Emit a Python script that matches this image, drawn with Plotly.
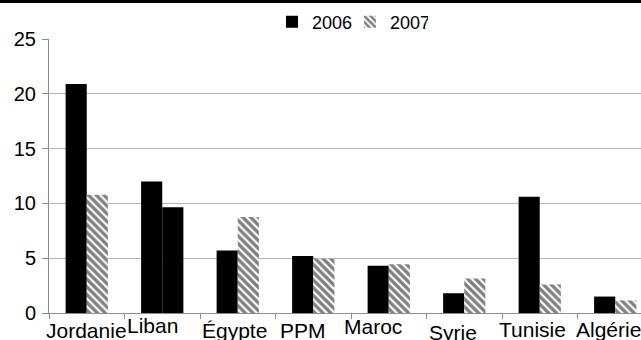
import plotly.graph_objects as go

# Categories and values
countries = ["Jordanie", "Liban", "Égypte", "PPM", "Maroc", "Syrie", "Tunisie", "Algérie"]
values_2006 = [20.9, 12.0, 5.7, 5.2, 4.3, 1.8, 10.6, 1.5]
values_2007 = [10.8, 9.65, 8.75, 4.95, 4.45, 3.15, 2.6, 1.15]
# the Liban 2007 bar is drawn plain black, the others hatched
hatch_2007 = ["\\", "", "\\", "\\", "\\", "\\", "\\", "\\"]
y_ticks = [0, 5, 10, 15, 20, 25]

# per-label nudges (px) for the category names under the axis
label_dx = [0, -10, -3, -10, -16, -11, -7, -7]
label_dy = [-2, 3, -2, -2, 2, -4, -1, -1]

W, H = 641, 340
L, R, T, B = 49, 0, 39, 27
plot_w = W - L - R
plot_h = H - T - B
cat_px = 75.5
x_max = plot_w / cat_px - 0.5

fig = go.Figure()
fig.add_trace(go.Bar(
    name="2006", x=countries, y=values_2006,
    marker=dict(color="#000000", line=dict(width=0)),
))
fig.add_trace(go.Bar(
    name="2007", x=countries, y=values_2007,
    marker=dict(
        color="#000000",
        line=dict(width=0),
        pattern=dict(shape=hatch_2007, fgcolor="#000000", bgcolor="#ffffff",
                     size=5.5, solidity=0.6, fillmode="overlay"),
    ),
))

for i, name in enumerate(countries):
    fig.add_annotation(
        x=i, y=0, xref="x", yref="y", text=name, showarrow=False,
        xanchor="center", yanchor="top",
        xshift=label_dx[i], yshift=-2 + label_dy[i],
        font=dict(family="Liberation Sans, Arial", size=21, color="#000000"),
    )

# dark band across the very top of the page
fig.add_shape(
    type="rect", xref="paper", yref="paper",
    x0=-L / plot_w, x1=1.0, y0=1 + (T - 3) / plot_h, y1=1 + T / plot_h,
    fillcolor="#000000", line=dict(width=0), layer="above",
)

fig.update_layout(
    width=W, height=H,
    margin=dict(l=L, r=R, t=T, b=B, pad=0),
    paper_bgcolor="#ffffff", plot_bgcolor="#ffffff",
    barmode="group", bargap=0.44, bargroupgap=0,
    font=dict(family="Liberation Sans, Arial", size=20, color="#000000"),
    showlegend=True,
    legend=dict(
        orientation="h", x=(350 - L) / plot_w, xanchor="center",
        y=1 + (T - 22) / plot_h, yanchor="middle",
        font=dict(size=18), itemwidth=30, bgcolor="rgba(0,0,0,0)",
        tracegroupgap=0, itemsizing="constant",
        entrywidth=33, entrywidthmode="pixels",
    ),
    xaxis=dict(
        type="category", range=[-0.5, x_max],
        showticklabels=False, ticks="outside", tickson="boundaries",
        ticklen=5, tickcolor="#8c8c8c", tickwidth=1,
        showline=True, linecolor="#8c8c8c", linewidth=1,
        showgrid=False, zeroline=False, fixedrange=True,
    ),
    yaxis=dict(
        range=[0, 25], tickvals=y_ticks, ticks="outside", ticklen=6,
        tickcolor="#8c8c8c", tickwidth=1,
        showline=True, linecolor="#8c8c8c", linewidth=1,
        showgrid=True, gridcolor="#b4b4b4", gridwidth=1,
        zeroline=False, tickfont=dict(size=20), ticklabelstandoff=2,
    ),
)

fig.write_html("out.html")
